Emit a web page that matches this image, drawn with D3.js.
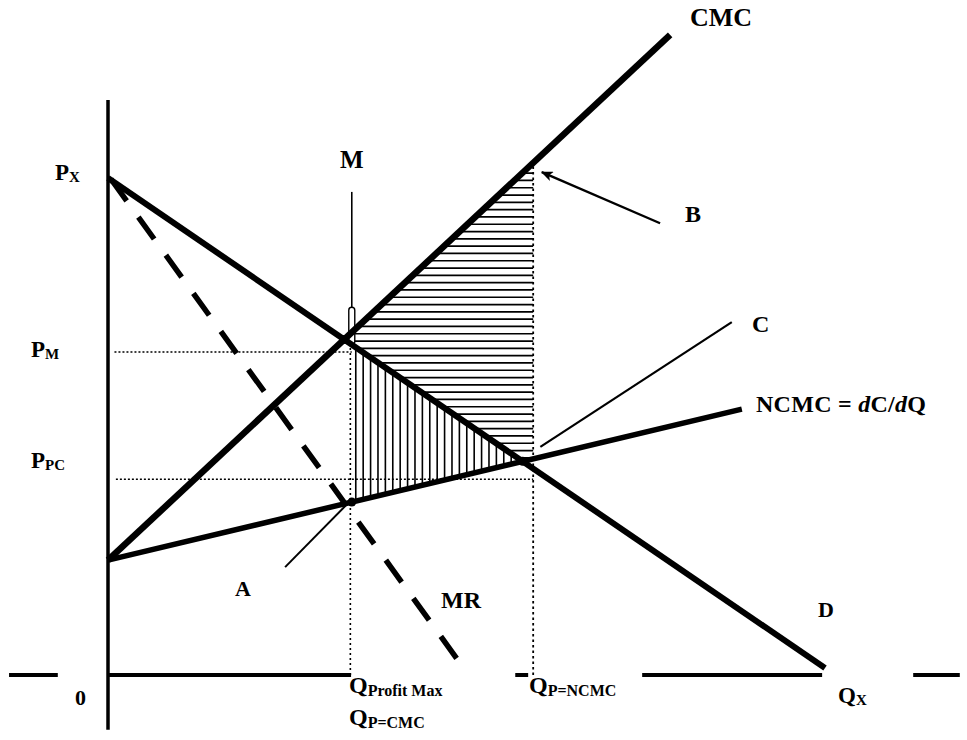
<!DOCTYPE html>
<html>
<head>
<meta charset="utf-8">
<script src="https://cdn.jsdelivr.net/npm/d3@7/dist/d3.min.js"></script>
<style>
  html, body { margin: 0; padding: 0; background: #fff; }
  svg { display: block; }
  text { font-family: "Liberation Serif", "Times New Roman", serif; font-weight: bold; fill: #000; }
</style>
</head>
<body>
<svg id="chart" width="967" height="740"></svg>
<script>
// ---------------- data (Q, P units) ----------------
const demandPts = [[0, 100], [100, 1.4]];
const cmcPts    = [[0, 23.1], [78.4, 128.8]];
const ncmcPts   = [[0, 23.1], [88.4, 53.5]];
const mrPts     = [[0.4, 99.8], [49.4, 1.8]];
const qMarks    = [34.0, 59.3];        // Q profit max (= P=CMC), Q P=NCMC
const pMarks    = [65.0, 39.4];        // P_M, P_PC
const xAxisSegments = [[-13.8, -7.0], [0, 33.9], [56.8, 58.6], [74.5, 99.6], [112.3, 118.8]];
const yAxisRange = [-11, 115.7];
const mLine    = [[34.0, 97.2], [34.0, 67.0]];
const pointerA = [[24.7, 21.7], [33.5, 34.6]];
const pointerC = [[60.3, 45.9], [87.0, 71.0]];
const arrowB   = [[77.0, 90.9], [60.5, 101.2]];

// ---------------- scales ----------------
const x = d3.scaleLinear().domain([0, 100]).range([108, 825]);
const y = d3.scaleLinear().domain([0, 100]).range([675, 178]);

const svg = d3.select("#chart");
svg.append("rect").attr("width", 967).attr("height", 740).attr("fill", "#fff");

const line = d3.line().x(d => x(d[0])).y(d => y(d[1]));

function valAt(pts, q) {
  const [[q0, p0], [q1, p1]] = pts;
  return p0 + (p1 - p0) * (q - q0) / (q1 - q0);
}
function intersect(a, b) {
  const sa = (a[1][1] - a[0][1]) / (a[1][0] - a[0][0]);
  const sb = (b[1][1] - b[0][1]) / (b[1][0] - b[0][0]);
  const ia = a[0][1] - sa * a[0][0];
  const ib = b[0][1] - sb * b[0][0];
  const q = (ib - ia) / (sa - sb);
  return [q, ia + sa * q];
}

const I_cd = intersect(cmcPts, demandPts);
const I_dn = intersect(demandPts, ncmcPts);
const Q1 = qMarks[0], Q2 = qMarks[1];

const polyH = [I_cd, [Q2, valAt(cmcPts, Q2)], [Q2, valAt(ncmcPts, Q2)], I_dn];
const polyV = [[Q1, valAt(demandPts, Q1)], I_dn, [Q1, valAt(ncmcPts, Q1)]];

const defs = svg.append("defs");
defs.append("clipPath").attr("id", "clipH")
  .append("path").attr("d", line(polyH) + "Z");
defs.append("clipPath").attr("id", "clipV")
  .append("path").attr("d", line(polyV) + "Z");
defs.append("marker").attr("id", "arrow")
  .attr("viewBox", "0 0 12 10").attr("refX", 11).attr("refY", 5)
  .attr("markerWidth", 12).attr("markerHeight", 10)
  .attr("markerUnits", "userSpaceOnUse").attr("orient", "auto")
  .append("path").attr("d", "M0,0 L12,5 L0,10 L3,5 Z").attr("fill", "#000");

// ---------------- hatching ----------------
const gH = svg.append("g").attr("clip-path", "url(#clipH)");
const hTop = y(d3.max(polyH, d => d[1])), hBot = y(d3.min(polyH, d => d[1]));
const hLeft = x(d3.min(polyH, d => d[0])), hRight = x(d3.max(polyH, d => d[0]));
gH.selectAll("line").data(d3.range(hTop + 3, hBot, 7.3)).join("line")
  .attr("x1", hLeft).attr("x2", hRight + 2)
  .attr("y1", d => d).attr("y2", d => d)
  .attr("stroke", "#000").attr("stroke-width", 1.7);

const gV = svg.append("g").attr("clip-path", "url(#clipV)");
const vTop = y(d3.max(polyV, d => d[1])), vBot = y(d3.min(polyV, d => d[1]));
gV.selectAll("line").data(d3.range(x(Q1) + 4, x(I_dn[0]), 7.4)).join("line")
  .attr("x1", d => d).attr("x2", d => d)
  .attr("y1", vTop).attr("y2", vBot)
  .attr("stroke", "#000").attr("stroke-width", 1.6);

// ---------------- dotted guide lines ----------------
const dotted = svg.append("g").attr("stroke", "#000").attr("fill", "none");
dotted.append("path")
  .attr("d", line([[0.9, pMarks[0]], [Q1, pMarks[0]]]))
  .attr("stroke-width", 1.4).attr("stroke-dasharray", "2,2");
dotted.append("path")
  .attr("d", line([[1.1, pMarks[1]], [Q2, pMarks[1]]]))
  .attr("stroke-width", 1.4).attr("stroke-dasharray", "2,2");
dotted.append("path")
  .attr("d", line([[Q1 - 0.2, 0], [Q1 - 0.2, valAt(demandPts, Q1)]]))
  .attr("stroke-width", 1.6).attr("stroke-dasharray", "2,3");
dotted.append("path")
  .attr("d", line([[Q2, 0], [Q2, valAt(cmcPts, Q2)]]))
  .attr("stroke-width", 1.8).attr("stroke-dasharray", "2.5,3");

// M vertical line
svg.append("path").attr("d", line(mLine))
  .attr("stroke", "#000").attr("stroke-width", 1.6).attr("fill", "none");
svg.append("rect")
  .attr("x", x(Q1) - 3).attr("y", y(74)).attr("width", 6).attr("height", y(valAt(demandPts, Q1)) - y(74))
  .attr("rx", 3).attr("fill", "#fff").attr("stroke", "#000").attr("stroke-width", 1.4);

// ---------------- axes ----------------
const axes = svg.append("g").attr("stroke", "#000").attr("fill", "none");
axes.append("path").attr("d", line([[0, yAxisRange[0]], [0, yAxisRange[1]]])).attr("stroke-width", 3.5);
axes.selectAll(".seg").data(xAxisSegments).join("path").attr("class", "seg")
  .attr("d", s => line([[s[0], 0], [s[1], 0]])).attr("stroke-width", 4);

// ---------------- curves ----------------
const curves = svg.append("g").attr("fill", "none").attr("stroke", "#000");
curves.append("path").attr("d", line(mrPts)).attr("stroke-width", 5.5)
  .attr("stroke-dasharray", "27,20");
curves.append("path").attr("d", line(demandPts)).attr("stroke-width", 6);
curves.append("path").attr("d", line(cmcPts)).attr("stroke-width", 6.5);
curves.append("path").attr("d", line(ncmcPts)).attr("stroke-width", 5.5);

// pointer lines
curves.append("path").attr("d", line(pointerA)).attr("stroke-width", 2);
curves.append("path").attr("d", line(pointerC)).attr("stroke-width", 2.2);
curves.append("path").attr("d", line(arrowB)).attr("stroke-width", 2.4).attr("marker-end", "url(#arrow)");

// intersection dots
const dots = [I_cd, [Q1, valAt(ncmcPts, Q1)], I_dn];
svg.selectAll(".dot").data(dots).join("circle").attr("class", "dot")
  .attr("cx", d => x(d[0])).attr("cy", d => y(d[1])).attr("r", 4.5).attr("fill", "#000");

// ---------------- labels ----------------
function label(px, py, main, sub, size, subSize, subDy) {
  const t = svg.append("text").attr("x", px).attr("y", py).attr("font-size", size);
  t.append("tspan").text(main);
  if (sub) t.append("tspan").attr("font-size", subSize).attr("dy", subDy).text(sub);
  return t;
}
label(690, 26, "CMC", null, 26);
label(340, 168, "M", null, 25);
label(685, 222, "B", null, 24);
label(752, 332, "C", null, 24);
label(235, 596, "A", null, 22);
label(441, 608, "MR", null, 24);
label(818, 617, "D", null, 22);
label(75, 705, "0", null, 22);

const nc = svg.append("text").attr("x", 756).attr("y", 412).attr("font-size", 24)
  .attr("textLength", 170).attr("lengthAdjust", "spacing");
nc.append("tspan").text("NCMC = ");
nc.append("tspan").attr("font-style", "italic").text("d");
nc.append("tspan").text("C/");
nc.append("tspan").attr("font-style", "italic").text("d");
nc.append("tspan").text("Q");

label(55, 180, "P", "X", 23, 15, 2);
label(31, 357, "P", "M", 23, 15, 2);
label(31, 468, "P", "PC", 23, 15, 2);

label(349, 693, "Q", "Profit Max", 24, 16, 3);
label(349, 725, "Q", "P=CMC", 24, 16, 3);
label(529, 693, "Q", "P=NCMC", 24, 16, 3);
label(838, 703, "Q", "X", 23, 15, 2);
</script>
</body>
</html>
